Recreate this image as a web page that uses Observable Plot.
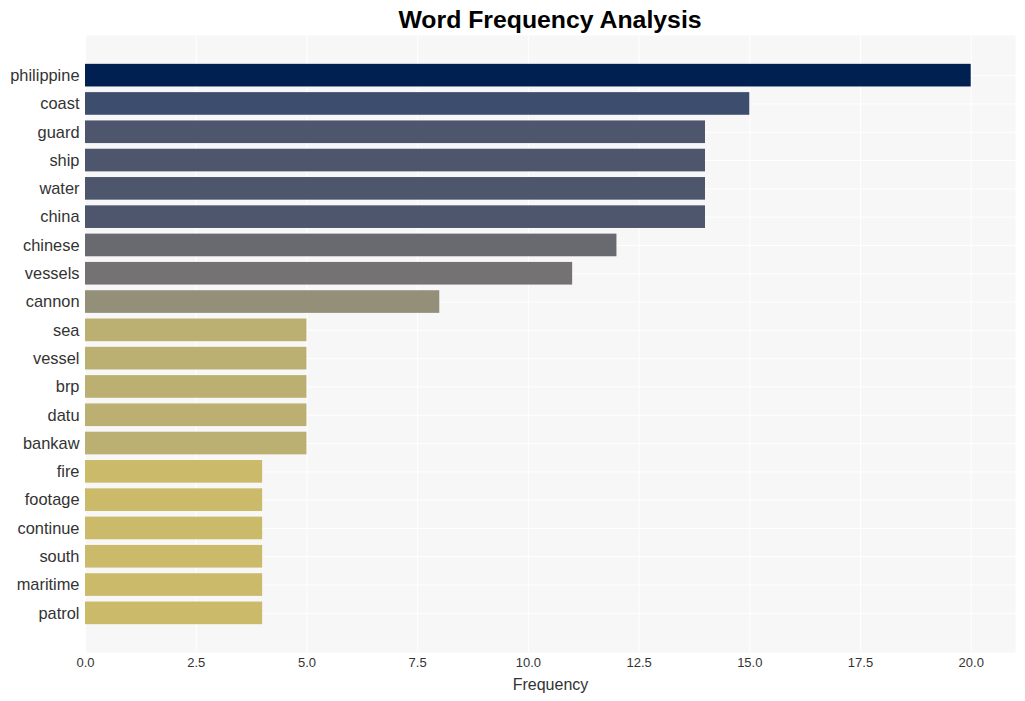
<!DOCTYPE html>
<html><head><meta charset="utf-8">
<script src="https://cdn.jsdelivr.net/npm/d3@7"></script>
<script src="https://cdn.jsdelivr.net/npm/@observablehq/plot@0.6"></script>
<style>
body{margin:0;background:#fff;font-family:"Liberation Sans",Arial,sans-serif;}
#title{height:35px;line-height:39px;text-align:center;font-weight:bold;font-size:24.8px;color:#000;padding-left:85px;padding-right:10px;}
</style></head><body>
<div id="title">Word Frequency Analysis</div>
<div id="chart"></div>
<script>
const words = ["philippine","coast","guard","ship","water","china","chinese","vessels","cannon","sea","vessel","brp","datu","bankaw","fire","footage","continue","south","maritime","patrol"];
const counts = [20,15,14,14,14,14,12,11,8,5,5,5,5,5,4,4,4,4,4,4];
const xTicks = [0,2.5,5,7.5,10,12.5,15,17.5,20];
const xLabel = "Frequency";
const data = words.map((w,i)=>({word:w,count:counts[i]}));
const font = "'Liberation Sans', Arial, sans-serif";
const chart = Plot.plot({
  width:1025, height:666,
  marginTop:0, marginBottom:49, marginLeft:85, marginRight:10,
  style:{fontFamily:font, background:"#fff", overflow:"visible"},
  x:{domain:[0,21]},
  y:{domain:words, paddingInner:0.2, paddingOuter:0.1, insetTop:26, insetBottom:25, round:false},
  color:{type:"linear", scheme:"cividis", domain:[0,20], reverse:true},
  marks:[
    Plot.frame({fill:"#f7f7f7", stroke:null}),
    Plot.gridX(xTicks,{stroke:"#fff", strokeOpacity:1, strokeWidth:1}),
    Plot.gridY(words,{stroke:"#fff", strokeOpacity:1, strokeWidth:1}),
    Plot.barX(data,{x:"count", y:"word", fill:"count"}),
    Plot.axisX(xTicks,{tickSize:0, tickPadding:5, fontSize:13, fill:"#333", tickFormat:d=>d.toFixed(1), label:null}),
    Plot.axisY({tickSize:0, tickPadding:6, fontSize:16.4, fill:"#333", label:null}),
    Plot.text([xLabel],{frameAnchor:"bottom", dy:32, fontSize:16, fill:"#333", lineAnchor:"middle", textAnchor:"middle"})
  ]
});
document.getElementById("chart").append(chart);
</script>
</body></html>
